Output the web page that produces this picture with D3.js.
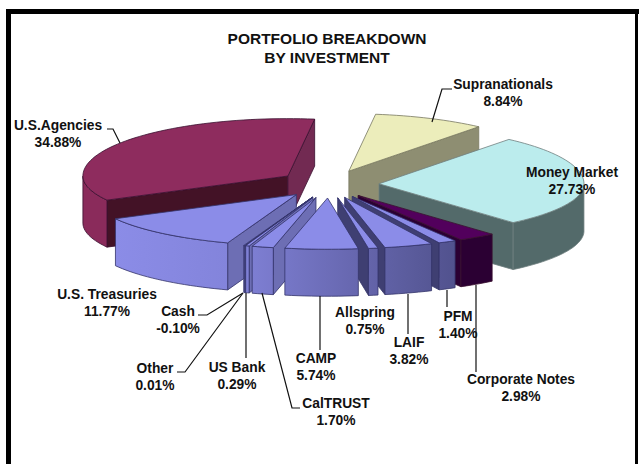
<!DOCTYPE html>
<html>
<head>
<meta charset="utf-8">
<script src="https://cdn.jsdelivr.net/npm/d3@7"></script>
<style>
  html, body { margin: 0; padding: 0; background: #fff; overflow: hidden; }
  svg { display: block; }
  text { font-family: "Liberation Sans", Arial, sans-serif; font-weight: 700; fill: #111; text-anchor: middle; }
</style>
</head>
<body>
<div id="chart"></div>
<script>
// Portfolio breakdown: exploded 3D pie, clockwise from Supranationals
const categories = ["Supranationals", "Money Market", "Corporate Notes", "PFM", "LAIF", "Allspring",
  "CAMP", "CalTRUST", "US Bank", "Other", "Cash", "U.S. Treasuries", "U.S.Agencies"];
const shares = [8.84, 27.73, 2.98, 1.40, 3.82, 0.75, 5.74, 1.70, 0.29, 0.01, -0.10, 11.77, 34.88];
const titleLines = ["PORTFOLIO BREAKDOWN", "BY INVESTMENT"];

// ---- layout ----
const WIDTH = 639, HEIGHT = 464;
const cx = 329, cy = 184;   // pie centre before exploding
const rx = 205, depth = 47, explode = 50;
const tiltBack = 0.28, tiltFront = 0.25;   // the near half looks flatter in the original
const startDeg = 7.5;
const rad = Math.PI / 180;

// colours by slice: top face, start wall, end wall, outer wall (null = blue gradient)
const blue = "#8b8ce8";
const faces = {
  "Supranationals": ["#ecedbb", "#8e8e72", "#8e8e72", "#8e8e72"],
  "Money Market": ["#bbeced", "#536a6a", "#536a6a", "#536a6a"],
  "Corporate Notes": ["#52005c", "#2b0033", "#2b0033", "#2b0033"],
  "U.S.Agencies": ["#8e2c5e", "#431226", "#722a52", "#8a2b5b"]
};
const blueFaces = [blue, "#6d6eb4", "#3f3f72", null];
const lineColor = (name) => faces[name] ? (name === "Money Market" ? "#6f7f7f" : name === "Supranationals" ? "#77775f" : "#3a1030") : "#34346a";

// label text centres and baselines, leaders as polylines
const labelPos = {
  "Supranationals": [503, 89], "Money Market": [572, 177], "Corporate Notes": [521, 384], "PFM": [458, 321],
  "LAIF": [409, 347], "Allspring": [365, 317], "CAMP": [316, 363], "CalTRUST": [336, 408],
  "US Bank": [237, 372], "Other": [155, 373], "Cash": [178, 316], "U.S. Treasuries": [107, 299], "U.S.Agencies": [58, 130]
};
const leaders = [
  [[107, 129], [113, 129], [120, 143]],
  [[452, 89], [442, 89], [432, 122]],
  [[476, 285], [476, 372]],
  [[447, 290], [447, 307]],
  [[408, 294], [408, 334]],
  [[320, 296], [320, 350]],
  [[262, 293], [292, 408], [300, 408]],
  [[246, 293], [246, 358]],
  [[177, 372], [185, 372], [243, 293]],
  [[198, 315], [207, 315], [243, 293]]
];

const svg = d3.select("#chart").append("svg").attr("width", WIDTH).attr("height", HEIGHT);
const defs = svg.append("defs");

svg.append("rect").attr("width", WIDTH).attr("height", HEIGHT).attr("fill", "#fff");

// Frame: open at the bottom, runs off the picture
svg.append("path")
  .attr("d", "M8.5,464V11.5H639")
  .attr("fill", "none").attr("stroke", "#000").attr("stroke-width", 5);
svg.append("path")
  .attr("d", "M636.5,11.5V464")
  .attr("fill", "none").attr("stroke", "#000").attr("stroke-width", 3);

// ---- pie geometry ----
const pie = d3.pie()
  .sort(null)
  .value((d) => Math.abs(d))
  .startAngle(startDeg * rad)
  .endAngle(startDeg * rad + 2 * Math.PI);

const arcs = pie(shares).map((a, i) => ({ ...a, name: categories[i], mid: (a.startAngle + a.endAngle) / 2 }));

// blue walls get darker left to right across the whole pie
const shadeX = d3.scaleLinear().domain([110, 225, 357, 430]).range([1, 0.92, 0.62, 0.46]);
const blueRamp = d3.scaleLinear().domain([0, 1]).range(["#2a2a50", blue]);
const line = d3.line();

function onRim(a, tip, z = 0) {
  const c = Math.cos(a);
  return [tip[0] + rx * Math.sin(a), tip[1] - rx * (c < 0 ? tiltFront : tiltBack) * c + z];
}

// Rear slices first so nearer ones paint over them
const order = arcs.slice().sort((p, q) => Math.cos(q.mid) - Math.cos(p.mid));
const pieG = svg.append("g").attr("stroke-linejoin", "round");

order.forEach((d, n) => {
  const [top, wallStart, wallEnd, wallOuter] = faces[d.name] || blueFaces;
  const stroke = lineColor(d.name);
  const tip = [cx + explode * Math.sin(d.mid), cy - explode * tiltBack * Math.cos(d.mid)];
  const tipLow = [tip[0], tip[1] + depth];
  const steps = Math.max(2, Math.ceil((d.endAngle - d.startAngle) / (2 * rad)));
  const angles = d3.range(steps + 1).map((k) => d.startAngle + (d.endAngle - d.startAngle) * k / steps);

  const g = pieG.append("g").attr("stroke", stroke).attr("stroke-width", 0.8);

  // radial walls, only those turned to the viewer
  if (Math.sin(d.startAngle) < 0) {
    g.append("path").attr("fill", wallStart)
      .attr("d", line([tip, onRim(d.startAngle, tip), onRim(d.startAngle, tip, depth), tipLow]) + "Z");
  }
  if (Math.sin(d.endAngle) > 0) {
    g.append("path").attr("fill", wallEnd)
      .attr("d", line([tip, onRim(d.endAngle, tip), onRim(d.endAngle, tip, depth), tipLow]) + "Z");
  }

  // outer wall, front half of the rim only
  const front = angles.filter((a) => Math.cos(a) <= 0);
  if (front.length > 1) {
    const upper = front.map((a) => onRim(a, tip));
    const lower = front.map((a) => onRim(a, tip, depth)).reverse();
    let fill = wallOuter;
    if (!fill) {
      const xs = d3.extent(upper, (p) => p[0]);
      const id = `wall-${n}`;
      const grad = defs.append("linearGradient").attr("id", id)
        .attr("gradientUnits", "userSpaceOnUse")
        .attr("x1", xs[0]).attr("x2", xs[1]).attr("y1", 0).attr("y2", 0);
      grad.append("stop").attr("offset", 0).attr("stop-color", blueRamp(shadeX(xs[0])));
      grad.append("stop").attr("offset", 1).attr("stop-color", blueRamp(shadeX(xs[1])));
      fill = `url(#${id})`;
    }
    g.append("path").attr("fill", fill).attr("d", line(upper.concat(lower)) + "Z");
  }

  // top face
  g.append("path").attr("fill", top)
    .attr("d", line([tip].concat(angles.map((a) => onRim(a, tip)))) + "Z");
});

// ---- leaders ----
svg.append("g").selectAll("path")
  .data(leaders)
  .join("path")
  .attr("d", (d) => line(d))
  .attr("fill", "none")
  .attr("stroke", "#111")
  .attr("stroke-width", 1.2);

// ---- labels ----
svg.append("g").selectAll("text")
  .data(titleLines)
  .join("text")
  .attr("x", 327)
  .attr("y", (d, i) => 44 + i * 19)
  .attr("font-size", 15.5)
  .text((d) => d);

const labels = svg.append("g").selectAll("g")
  .data(categories)
  .join("g")
  .attr("font-size", 13.8);

labels.append("text")
  .attr("x", (d) => labelPos[d][0])
  .attr("y", (d) => labelPos[d][1])
  .text((d) => d);

labels.append("text")
  .attr("x", (d) => labelPos[d][0])
  .attr("y", (d) => labelPos[d][1] + 16.5)
  .text((d, i) => `${shares[i].toFixed(2)}%`);
</script>
</body>
</html>
